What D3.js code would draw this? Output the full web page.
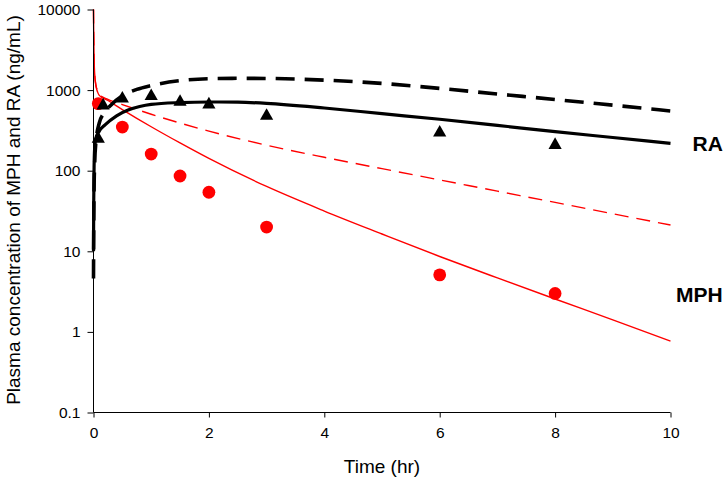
<!DOCTYPE html>
<html>
<head>
<meta charset="utf-8">
<script src="https://cdn.jsdelivr.net/npm/d3@7"></script>
<style>
  html, body { margin: 0; padding: 0; background: #fff; }
  svg { display: block; font-family: Arial, "Liberation Sans", sans-serif; }
</style>
</head>
<body>
<svg id="chart" width="728" height="484"></svg>
<script>
// ---- Data ----
const xTicks = [0, 2, 4, 6, 8, 10];
const yTicks = [0.1, 1, 10, 100, 1000, 10000];
const yTickLabels = ["0.1", "1", "10", "100", "1000", "10000"];

// Observed MPH (red circles)
const mphObsTime = [0.083, 0.5, 1, 1.5, 2, 3, 6, 8];
const mphObsConc = [680, 348, 161, 86, 54, 20, 5.1, 3.0];

// Observed RA (black triangles)
const raObsTime = [0.083, 0.167, 0.5, 1, 1.5, 2, 3, 6, 8];
const raObsConc = [262, 680, 828, 890, 754, 700, 505, 313, 220];

// Predicted MPH, solid red
const mphSolidTime = [0, 0.004, 0.01, 0.02, 0.04, 0.07, 0.1, 0.25, 0.5, 0.75, 1, 1.5, 2, 3, 4, 5, 6, 7, 8, 9, 10];
const mphSolidConc = [10000, 5000, 2500, 1600, 1150, 950, 860, 743, 574, 447, 351, 221, 142, 63.7, 31.6, 16.4, 8.62, 4.67, 2.56, 1.41, 0.77];

// Predicted MPH, dashed red
const mphDashTime = [0, 0.004, 0.01, 0.02, 0.04, 0.07, 0.1, 0.25, 0.5, 1, 1.5, 2, 3, 4, 5, 6, 7, 8, 9, 10];
const mphDashConc = [10000, 5000, 2500, 1600, 1180, 980, 880, 769, 662, 502, 390, 310, 207, 146.6, 106, 76.9, 55.7, 40.4, 29.2, 21.2];

// Predicted RA, solid black
const raSolidTime = [0, 0.004, 0.01, 0.02, 0.04, 0.1, 0.2, 0.4, 0.6, 0.8, 1, 1.5, 2, 2.5, 3, 4, 5, 6, 7, 8, 9, 10];
const raSolidConc = [10, 40, 110, 190, 250, 310, 370, 480, 565, 625, 665, 700, 712, 708, 685, 600, 510, 435, 365, 305, 258, 218];

// Predicted RA, dashed black
const raDashTime = [0, 0.004, 0.01, 0.02, 0.04, 0.1, 0.2, 0.3, 0.5, 0.75, 1, 1.5, 2, 2.5, 3, 4, 5, 6, 7, 8, 9, 10];
const raDashConc = [4.6, 20, 60, 120, 220, 390, 540, 650, 850, 1020, 1140, 1310, 1385, 1400, 1395, 1330, 1210, 1050, 895, 765, 650, 551];

// ---- Layout ----
const plotLeft = 93.5, plotRight = 670.5, plotTop = 9.5, plotBottom = 412.5;
const svg = d3.select("#chart");

const x = d3.scaleLinear().domain([0, 10]).range([plotLeft, plotRight]);
const y = d3.scaleLog().domain([0.1, 10000]).range([plotBottom, plotTop]);

const zip = (ts, cs) => ts.map((t, i) => [t, cs[i]]);

const line = d3.line()
  .x(d => x(d[0]))
  .y(d => y(d[1]))
  .curve(d3.curveMonotoneX);

// Lines
svg.append("path").datum(zip(mphSolidTime, mphSolidConc))
  .attr("d", line).attr("fill", "none")
  .attr("stroke", "#ff0000").attr("stroke-width", 1.4);

svg.append("path").datum(zip(mphDashTime, mphDashConc))
  .attr("d", line).attr("fill", "none")
  .attr("stroke", "#ff0000").attr("stroke-width", 1.4)
  .attr("stroke-dasharray", "14,8");

svg.append("path").datum(zip(raSolidTime, raSolidConc))
  .attr("d", line).attr("fill", "none")
  .attr("stroke", "#000").attr("stroke-width", 3.2);

svg.append("path").datum(zip(raDashTime, raDashConc))
  .attr("d", line).attr("fill", "none")
  .attr("stroke", "#000").attr("stroke-width", 3.6)
  .attr("stroke-dasharray", "19,10");

// Axes
const yAxis = d3.axisLeft(y)
  .tickValues(yTicks)
  .tickFormat((d, i) => yTickLabels[i])
  .tickSize(6).tickPadding(7);
const gy = svg.append("g").attr("transform", `translate(${plotLeft},0)`).call(yAxis);

const xAxis = d3.axisBottom(x)
  .tickValues(xTicks)
  .tickFormat(d3.format("d"))
  .tickSize(5).tickPadding(9);
const gx = svg.append("g").attr("transform", `translate(0,${plotBottom})`).call(xAxis);

[gx, gy].forEach(g => {
  g.select(".domain").attr("stroke", "#000").attr("stroke-width", 1);
  g.selectAll(".tick line").attr("stroke", "#000").attr("stroke-width", 1);
  g.selectAll(".tick text").attr("fill", "#000")
    .style("font-size", "15.5px")
    .style("font-family", "Arial, 'Liberation Sans', sans-serif");
});
gy.select(".domain").attr("d", `M0,${plotBottom}V${plotTop}`);
gx.select(".domain").attr("d", `M${plotLeft},0H${plotRight}`);

// Markers
svg.append("g").selectAll("circle")
  .data(zip(mphObsTime, mphObsConc))
  .join("circle")
  .attr("cx", d => x(d[0])).attr("cy", d => y(d[1]))
  .attr("r", 6.4).attr("fill", "#ff0000");

const tri = {
  draw(ctx, size) {
    const w = 6.6, h = 5.8;
    ctx.moveTo(0, -h); ctx.lineTo(w, h); ctx.lineTo(-w, h); ctx.closePath();
  }
};
svg.append("g").selectAll("path")
  .data(zip(raObsTime, raObsConc))
  .join("path")
  .attr("transform", d => `translate(${x(d[0])},${y(d[1])})`)
  .attr("d", d3.symbol().type(tri).size(1))
  .attr("fill", "#000");

// Labels
svg.append("text")
  .attr("transform", "translate(19.5,210) rotate(-90)")
  .attr("text-anchor", "middle")
  .style("font-size", "19px")
  .text("Plasma concentration of MPH and RA (ng/mL)");

svg.append("text")
  .attr("x", (plotLeft + plotRight) / 2).attr("y", 473)
  .attr("text-anchor", "middle")
  .style("font-size", "19px")
  .text("Time (hr)");

svg.append("text")
  .attr("x", 692.5).attr("y", 151)
  .style("font-size", "21px").style("font-weight", "bold")
  .text("RA");

svg.append("text")
  .attr("x", 676).attr("y", 301.5)
  .style("font-size", "21px").style("font-weight", "bold")
  .text("MPH");
</script>
</body>
</html>
